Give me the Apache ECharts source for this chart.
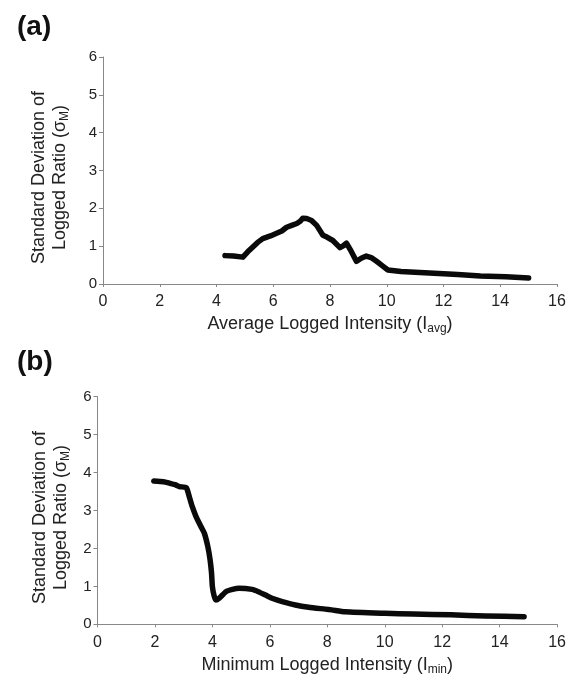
<!DOCTYPE html>
<html>
<head>
<meta charset="utf-8">
<script src="https://cdn.jsdelivr.net/npm/echarts@6/dist/echarts.min.js"></script>
<style>html,body{margin:0;padding:0;background:#fff;}#c{width:569px;height:682px;}</style>
</head>
<body>
<div id="c"></div>
<script>
// Panel (a): sigma_M vs average logged intensity
var xA = [4.3, 4.6, 4.93, 5.1, 5.28, 5.45, 5.63, 5.9, 6.12, 6.3, 6.47, 6.65, 6.83, 6.95, 7.04, 7.18, 7.35, 7.53, 7.75, 7.89, 8.1, 8.35, 8.45, 8.58, 8.75, 8.93, 9.1, 9.28, 9.45, 9.64, 9.85, 10.04, 10.5, 11.5, 12.5, 13.3, 14.2, 15.0];
var yA = [0.75, 0.74, 0.71, 0.85, 0.98, 1.1, 1.2, 1.27, 1.34, 1.4, 1.5, 1.55, 1.6, 1.66, 1.74, 1.73, 1.68, 1.55, 1.29, 1.24, 1.15, 0.96, 1.0, 1.08, 0.86, 0.6, 0.68, 0.74, 0.7, 0.6, 0.48, 0.37, 0.33, 0.29, 0.25, 0.21, 0.19, 0.16];
// Panel (b): sigma_M vs minimum logged intensity
var xB = [1.96, 2.3, 2.51, 2.7, 2.85, 3.09, 3.2, 3.3, 3.43, 3.6, 3.72, 3.84, 3.92, 3.97, 4.0, 4.06, 4.12, 4.24, 4.47, 4.7, 4.93, 5.38, 5.6, 5.85, 6.1, 6.43, 6.89, 7.35, 7.93, 8.15, 8.62, 10.0, 11.0, 12.3, 13.5, 14.85];
var yB = [3.78, 3.76, 3.72, 3.68, 3.63, 3.6, 3.35, 3.1, 2.84, 2.58, 2.4, 2.05, 1.7, 1.35, 0.99, 0.75, 0.64, 0.69, 0.86, 0.92, 0.95, 0.92, 0.86, 0.77, 0.68, 0.6, 0.51, 0.45, 0.4, 0.38, 0.33, 0.29, 0.27, 0.25, 0.22, 0.2];
var xTicks = [0, 2, 4, 6, 8, 10, 12, 14, 16];
var yTicks = [0, 1, 2, 3, 4, 5, 6];

var FONT = "'Liberation Sans', Arial, sans-serif";
function pairs(xs, ys) { return xs.map(function (x, i) { return [x, ys[i]]; }); }

var rich = {
  n: { fontSize: 18, fontFamily: FONT, color: '#222', lineHeight: 21 },
  s: { fontSize: 12, fontFamily: FONT, color: '#222', verticalAlign: 'bottom', padding: [8, 0, 0, 0], lineHeight: 21 }
};

function xAxis(idx, name) {
  return {
    type: 'value', gridIndex: idx, min: xTicks[0], max: xTicks[xTicks.length - 1], interval: 2,
    splitLine: { show: false },
    axisLine: { lineStyle: { color: '#888', width: 1 } },
    axisTick: { inside: false, length: 3, lineStyle: { color: '#888' } },
    axisLabel: { fontSize: 16, fontFamily: FONT, color: '#222', margin: 10 },
    name: name, nameLocation: 'middle', nameGap: 30,
    nameTextStyle: { rich: rich }
  };
}
function yAxis(idx, gap) {
  return {
    type: 'value', gridIndex: idx, min: yTicks[0], max: yTicks[yTicks.length - 1], interval: 1,
    splitLine: { show: false },
    axisLine: { show: true, lineStyle: { color: '#888', width: 1 } },
    axisTick: { show: true, inside: false, length: 4, lineStyle: { color: '#888' } },
    axisLabel: { fontSize: 15, fontFamily: FONT, color: '#222', margin: 6 },
    name: '{n|Standard Deviation of}\n{n|Logged Ratio (σ}{s|M}{n|)}',
    nameLocation: 'middle', nameRotate: 90, nameGap: gap,
    nameTextStyle: { rich: rich, align: 'center', padding: [0, 14, 0, 0] }
  };
}

var chart = echarts.init(document.getElementById('c'), null, { renderer: 'canvas' });
chart.setOption({
  animation: false,
  backgroundColor: '#fff',
  title: [
    { text: '(a)', left: 12, top: 8, textStyle: { fontSize: 28, fontWeight: 'bold', fontFamily: FONT, color: '#111' } },
    { text: '(b)', left: 12, top: 343, textStyle: { fontSize: 28, fontWeight: 'bold', fontFamily: FONT, color: '#111' } }
  ],
  grid: [
    { left: 103, top: 57, width: 454, height: 227 },
    { left: 97.5, top: 396.7, width: 462.5, height: 227.6 }
  ],
  xAxis: [
    xAxis(0, '{n|Average Logged Intensity (I}{s|avg}{n|)}'),
    xAxis(1, '{n|Minimum Logged Intensity (I}{s|min}{n|)}')
  ],
  yAxis: [yAxis(0, 32), yAxis(1, 26)],
  series: [
    { type: 'line', xAxisIndex: 0, yAxisIndex: 0, data: pairs(xA, yA), showSymbol: false, smooth: false,
      lineStyle: { color: '#0a0a0a', width: 5.5, join: 'round', cap: 'round' } },
    { type: 'line', xAxisIndex: 1, yAxisIndex: 1, data: pairs(xB, yB), showSymbol: false, smooth: 0.2,
      lineStyle: { color: '#0a0a0a', width: 5.5, join: 'round', cap: 'round' } }
  ]
});
</script>
</body>
</html>
